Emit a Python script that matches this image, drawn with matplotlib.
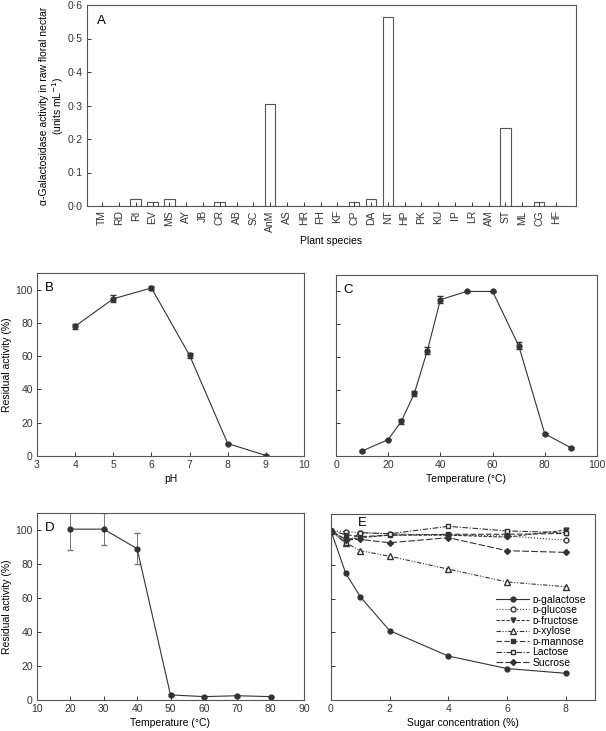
import numpy as np
from matplotlib import pyplot as plt

plt.rcParams['font.family'] = ['Liberation Sans', 'DejaVu Sans']
plt.rcParams['font.size'] = 7.5
plt.rcParams['axes.edgecolor'] = '#555555'
plt.rcParams['axes.linewidth'] = 0.8
plt.rcParams['xtick.color'] = '#333333'
plt.rcParams['ytick.color'] = '#333333'

# panel A
species = ['TM', 'RD', 'RI', 'EV', 'MS', 'AY', 'JB', 'CR', 'AB', 'SC', 'AnM', 'AS', 'HR', 'FH',
           'KF', 'CP', 'DA', 'NT', 'HP', 'PK', 'KU', 'IP', 'LR', 'AM', 'ST', 'ML', 'CG', 'HF']
activity = [0, 0, 0.02, 0.013, 0.02, 0, 0, 0.013, 0, 0, 0.303, 0, 0, 0,
            0, 0.013, 0.02, 0.565, 0, 0, 0, 0, 0, 0, 0.232, 0, 0.013, 0]

# panel B
ph = [4, 5, 6, 7, 8, 9]
ph_act = [78, 94.5, 101, 60.5, 7.5, 0.3]
ph_err = [1.5, 2, 1, 1.5, 0.5, 0.5]

# panel C
temp_c = [10, 20, 25, 30, 35, 40, 50, 60, 70, 80, 90]
temp_act = [3, 10, 21, 38, 64, 95, 100, 100, 67, 13.5, 5]
temp_err = [0.5, 0.5, 1.5, 1.5, 2, 2, 0.5, 0.5, 2, 0.5, 0.5]

# panel D
stab_t = [20, 30, 40, 50, 60, 70, 80]
stab_act = [100.5, 100.5, 89, 3, 2, 2.5, 2]
stab_err = [12, 9.5, 9, 0.5, 0.5, 0.5, 0.5]

# panel E
conc = [0, 0.5, 1, 2, 4, 6, 8]
galactose = [100, 75, 61, 41, 26, 18.6, 15.8]
glucose = [100, 99.6, 99, 98.3, 97.5, 97, 94.5]
fructose = [100, 95, 96, 97.5, 97.5, 96.3, 100.5]
xylose = [100, 93, 88.3, 85, 77.4, 69.8, 67]
mannose = [100, 97.8, 96.6, 97.5, 98, 98, 98.5]
lactose = [100, 92.7, 99, 98.3, 102.7, 100, 99]
sucrose = [100, 94.8, 95, 93, 96, 88.3, 87.3]

W, H = 606, 731
fig = plt.figure(figsize=(W / 100, H / 100), dpi=100)

def box(l, t, r, b):
    return [l / W, 1 - b / H, (r - l) / W, (b - t) / H]

lc = '#333333'

def style(ax):
    ax.tick_params(direction='in', length=3, width=0.7, pad=3)

# A
axA = fig.add_axes(box(87, 5, 576, 206))
x = np.arange(len(species))
axA.bar(x, activity, width=0.63, color='white', edgecolor='#555555', linewidth=0.8)
axA.set_xlim(-0.9, 28.2)
axA.set_ylim(0, 0.6)
yt = np.arange(0, 0.61, 0.1)
axA.set_yticks(yt)
axA.set_yticklabels([('%.1f' % v).replace('.', '·') for v in yt])
axA.set_xticks(x)
axA.set_xticklabels(species, rotation=90)
axA.set_xlabel('Plant species', labelpad=3)
axA.set_ylabel('α-Galactosidase activity in raw floral nectar\n(units mL$^{-1}$)', linespacing=1.1)
axA.yaxis.set_label_coords(-0.043, 0.5)
axA.text(0.02, 0.95, 'A', transform=axA.transAxes, fontsize=9.5, va='top')
style(axA)

# B
axB = fig.add_axes(box(37, 273, 304, 456))
axB.errorbar(ph, ph_act, yerr=ph_err, color=lc, marker='o', ms=3.5, lw=0.8, capsize=2, elinewidth=0.7)
axB.set_xlim(3, 10)
axB.set_ylim(0, 110)
axB.set_yticks([0, 20, 40, 60, 80, 100])
axB.set_xlabel('pH', labelpad=3)
axB.set_ylabel('Residual activity (%)')
axB.yaxis.set_label_coords(-0.095, 0.5)
axB.text(0.03, 0.95, 'B', transform=axB.transAxes, fontsize=9.5, va='top')
style(axB)

# C
axC = fig.add_axes(box(336, 275, 597, 456))
axC.errorbar(temp_c, temp_act, yerr=temp_err, color=lc, marker='o', ms=3.5, lw=0.8, capsize=2, elinewidth=0.7)
axC.set_xlim(0, 100)
axC.set_ylim(0, 110)
axC.set_yticks([0, 20, 40, 60, 80, 100])
axC.set_yticklabels([])
axC.set_xlabel('Temperature (°C)', labelpad=3)
axC.text(0.03, 0.95, 'C', transform=axC.transAxes, fontsize=9.5, va='top')
style(axC)

# D
axD = fig.add_axes(box(37, 513, 304, 700))
axD.errorbar(stab_t, stab_act, yerr=stab_err, color=lc, marker='o', ms=3.5, lw=0.8, capsize=2,
             elinewidth=0.7, ecolor='#777777')
axD.set_xlim(10, 90)
axD.set_ylim(0, 110)
axD.set_yticks([0, 20, 40, 60, 80, 100])
axD.set_xlabel('Temperature (°C)', labelpad=3)
axD.set_ylabel('Residual activity (%)')
axD.yaxis.set_label_coords(-0.095, 0.5)
axD.text(0.03, 0.95, 'D', transform=axD.transAxes, fontsize=9.5, va='top')
style(axD)

# E
axE = fig.add_axes(box(331, 514, 595, 700))
kw = dict(color=lc, lw=0.8)
axE.plot(conc, galactose, '-', marker='o', ms=3.5, label='ᴅ-galactose', **kw)
axE.plot(conc, glucose, ':', marker='o', ms=3.5, mfc='white', label='ᴅ-glucose', **kw)
axE.plot(conc, fructose, linestyle=(0, (3, 1.5)), marker='v', ms=3.5, label='ᴅ-fructose', **kw)
axE.plot(conc, xylose, linestyle=(0, (4, 1.5, 1, 1.5, 1, 1.5)), marker='^', ms=4, mfc='white',
         label='ᴅ-xylose', **kw)
axE.plot(conc, mannose, linestyle=(0, (5, 2)), marker='s', ms=3.3, label='ᴅ-mannose', **kw)
axE.plot(conc, lactose, linestyle=(0, (5, 1.5, 1, 1.5)), marker='s', ms=3.5, mfc='white',
         label='Lactose', **kw)
axE.plot(conc, sucrose, linestyle=(0, (6, 2)), marker='D', ms=3, label='Sucrose', **kw)
axE.set_xlim(0, 9)
axE.set_ylim(0, 110)
axE.set_xticks([0, 2, 4, 6, 8])
axE.set_yticks([0, 20, 40, 60, 80, 100])
axE.set_yticklabels([])
axE.set_xlabel('Sugar concentration (%)', labelpad=3)
axE.text(0.1, 0.985, 'E', transform=axE.transAxes, fontsize=9.5, va='top')
axE.legend(loc='lower right', bbox_to_anchor=(0.99, 0.14), frameon=False, fontsize=7.5,
           handlelength=3.2, handletextpad=0.3, labelspacing=0.05, borderaxespad=0.2)
style(axE)

fig.savefig('out.png', dpi=100)
